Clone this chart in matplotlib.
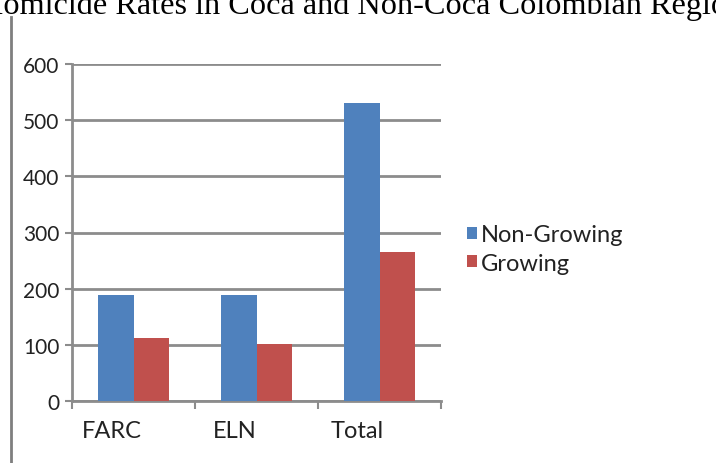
import matplotlib.pyplot as plt
import matplotlib.transforms as mtransforms
import numpy as np

# values
groups = ['FARC', 'ELN', 'Total']
non_growing = [188, 188, 530]
growing = [112, 101, 266]
yticks = [0, 100, 200, 300, 400, 500, 600]

blue = '#4F81BD'
red = '#C0504D'
grey = '#8C8C8C'

plt.rcParams['font.family'] = ['Lato', 'DejaVu Sans']

fig = plt.figure(figsize=(7.16, 4.64), dpi=100)
ax = fig.add_axes([72 / 716, 62 / 464, 369 / 716, 337 / 464])

x = np.arange(len(groups))
w = 0.285
ax.bar(x - w / 2, non_growing, w, color=blue, label='Non-Growing', zorder=3)
ax.bar(x + w / 2, growing, w, color=red, label='Growing', zorder=3)

ax.set_xlim(-0.5, len(groups) - 0.5)
ax.set_ylim(0, 600)
ax.set_yticks(yticks)
ax.set_yticklabels([str(v) for v in yticks], fontsize=15, color='#222222')
ax.yaxis.grid(True, color=grey, linewidth=2, zorder=0)

# category ticks at boundaries, labels in between
ax.set_xticks(np.arange(-0.5, len(groups), 1.0))
ax.set_xticklabels([])
ax.set_xticks(x, minor=True)
ax.set_xticklabels(groups, minor=True, fontsize=17, color='#222222')
ax.tick_params(axis='x', which='minor', length=0, pad=14)
ax.tick_params(axis='x', which='major', length=6, width=1.5, color=grey)
ax.tick_params(axis='y', length=5, width=1.5, color=grey, pad=4)
off = mtransforms.ScaledTranslation(-22 / 100, 0, fig.dpi_scale_trans)
for lab in ax.get_xticklabels(minor=True):
    lab.set_transform(lab.get_transform() + off)

for s in ['top', 'right']:
    ax.spines[s].set_visible(False)
for s in ['left', 'bottom']:
    ax.spines[s].set_color(grey)
    ax.spines[s].set_linewidth(2)

leg = ax.legend(loc='center left', bbox_to_anchor=(446 / 716, 1 - 250 / 464),
                bbox_transform=fig.transFigure, frameon=False,
                fontsize=17, handlelength=0.42, handleheight=0.42,
                handletextpad=0.15, labelspacing=0.3)
for t in leg.get_texts():
    t.set_color('#222222')

# page line and cut-off title from the source document
fig.add_artist(plt.Line2D([11 / 716, 11 / 716], [0, 1 - 18 / 464],
                          color='#7f7f7f', linewidth=2))
fig.text(-20 / 716, 1 - 14 / 464, 'Homicide Rates in Coca and Non-Coca Colombian Regions',
         family='Liberation Serif', fontsize=23.2, va='baseline', ha='left', color='black')

fig.savefig('out.png', dpi=100)
